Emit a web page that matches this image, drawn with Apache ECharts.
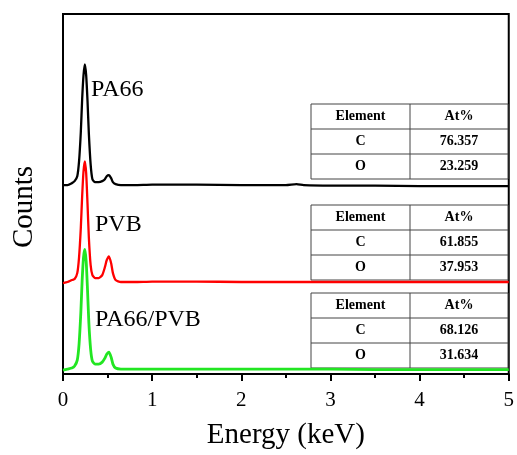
<!DOCTYPE html>
<html>
<head>
<meta charset="utf-8">
<script src="https://cdn.jsdelivr.net/npm/echarts@6/dist/echarts.min.js"></script>
<style>
  html, body { margin: 0; padding: 0; background: #fff; }
  #main { width: 517px; height: 455px; }
</style>
</head>
<body>
<div id="main"></div>
<script>
// energy axis (keV), shared by the three spectra
var energy = [0, 0.05, 0.1, 0.13, 0.16, 0.18, 0.2, 0.215, 0.23, 0.245, 0.26, 0.275, 0.29, 0.31, 0.33, 0.36, 0.4, 0.44, 0.47, 0.49, 0.515, 0.54, 0.56, 0.59, 0.65, 0.8, 1, 1.5, 2, 2.5, 2.62, 2.7, 3, 3.5, 4, 4.5, 5];

// counts (arbitrary, spectra are stacked with offsets)
var pa66 = [191, 191, 193, 195, 200, 215, 245, 278, 302, 313, 302, 276, 243, 212, 197, 194, 194, 195, 197, 200, 201, 198, 194, 192, 191, 191, 191.5, 191.5, 191, 191, 192, 191, 190.5, 190.5, 190, 190, 190];
var pvb = [92, 93, 95, 96, 102, 118, 148, 180, 205, 215, 203, 172, 138, 110, 100, 97, 97, 100, 108, 115, 119, 112, 102, 95, 93, 93, 93.5, 93.5, 93, 93, 93, 93, 93, 93, 93, 93, 93];
var blend = [4, 5, 6, 8, 14, 30, 62, 95, 118, 126, 114, 85, 52, 25, 13, 10, 10, 12, 16, 20, 22, 17, 10, 6, 5, 5, 5, 5, 5, 5, 5, 5, 5, 4.5, 4.5, 4.5, 4.5];

var xTicks = ['0', '1', '2', '3', '4', '5'];

// EDS composition tables
var elements = ['C', 'O'];
var atPA66 = ['76.357', '23.259'];
var atPVB = ['61.855', '37.953'];
var atBlend = ['68.126', '31.634'];

function pairs(vals) {
    return energy.map(function (e, i) { return [e, vals[i]]; });
}

// small table drawn with graphic elements
function table(top, values) {
    var left = 311, mid = 410, right = 508, rowH = 25;
    var els = [];
    var rows = [['Element', 'At%']].concat(elements.map(function (el, i) { return [el, values[i]]; }));
    els.push({ type: 'rect', shape: { x: left, y: top, width: right - left, height: rowH * 3 },
        style: { fill: '#fff', stroke: '#444', lineWidth: 1 } });
    els.push({ type: 'line', shape: { x1: mid, y1: top, x2: mid, y2: top + rowH * 3 }, style: { stroke: '#444', lineWidth: 1 } });
    for (var r = 1; r < 3; r++) {
        els.push({ type: 'line', shape: { x1: left, y1: top + rowH * r, x2: right, y2: top + rowH * r }, style: { stroke: '#444', lineWidth: 1 } });
    }
    rows.forEach(function (row, r) {
        [[(left + mid) / 2, row[0]], [(mid + right) / 2, row[1]]].forEach(function (c) {
            els.push({ type: 'text', x: c[0], y: top + rowH * r + rowH / 2,
                style: { text: c[1], fill: '#000', font: 'bold 14px "Liberation Serif"', align: 'center', verticalAlign: 'middle' } });
        });
    });
    return els;
}

var myChart = echarts.init(document.getElementById('main'));

var labelFont = '24px "Liberation Serif"';

var option = {
    animation: false,
    backgroundColor: '#fff',
    grid: { left: 63, right: 4, top: 14, bottom: 77, show: true, borderColor: '#000', borderWidth: 2 },
    xAxis: {
        type: 'value', min: 0, max: 5, interval: 1,
        name: 'Energy (keV)', nameLocation: 'middle', nameGap: 47,
        nameTextStyle: { fontFamily: 'Liberation Serif', fontSize: 29, color: '#000' },
        axisLine: { lineStyle: { color: '#000', width: 2 } },
        axisTick: { inside: false, length: 7, lineStyle: { color: '#000', width: 2 } },
        minorTick: { show: true, splitNumber: 2, length: 4, lineStyle: { color: '#000', width: 2 } },
        axisLabel: { margin: 16, fontFamily: 'Liberation Serif', fontSize: 21, color: '#000',
            formatter: function (v) { return xTicks[Math.round(v)]; } },
        splitLine: { show: false }
    },
    yAxis: {
        type: 'value', min: 0, max: 364,
        axisLine: { show: true, lineStyle: { color: '#000', width: 2 } },
        axisTick: { show: false }, axisLabel: { show: false }, splitLine: { show: false }
    },
    series: [
        { name: 'PA66', type: 'line', data: pairs(pa66), showSymbol: false, smooth: 0.2,
          lineStyle: { color: '#000', width: 2.3 } },
        { name: 'PVB', type: 'line', data: pairs(pvb), showSymbol: false, smooth: 0.2,
          lineStyle: { color: '#ff0000', width: 2.3 } },
        { name: 'PA66/PVB', type: 'line', data: pairs(blend), showSymbol: false, smooth: 0.2,
          lineStyle: { color: '#22e622', width: 2.8 } }
    ],
    graphic: [
        { type: 'text', x: 24, y: 207, rotation: Math.PI / 2,
          style: { text: 'Counts', font: '29px "Liberation Serif"', fill: '#000', align: 'center', verticalAlign: 'middle' } },
        { type: 'text', x: 91, y: 90, style: { text: 'PA66', font: labelFont, fill: '#000', verticalAlign: 'middle' } },
        { type: 'text', x: 95, y: 225, style: { text: 'PVB', font: labelFont, fill: '#000', verticalAlign: 'middle' } },
        { type: 'text', x: 95, y: 320, style: { text: 'PA66/PVB', font: labelFont, fill: '#000', verticalAlign: 'middle' } }
    ].concat(table(104, atPA66), table(205, atPVB), table(293, atBlend))
};

myChart.setOption(option);
</script>
</body>
</html>
